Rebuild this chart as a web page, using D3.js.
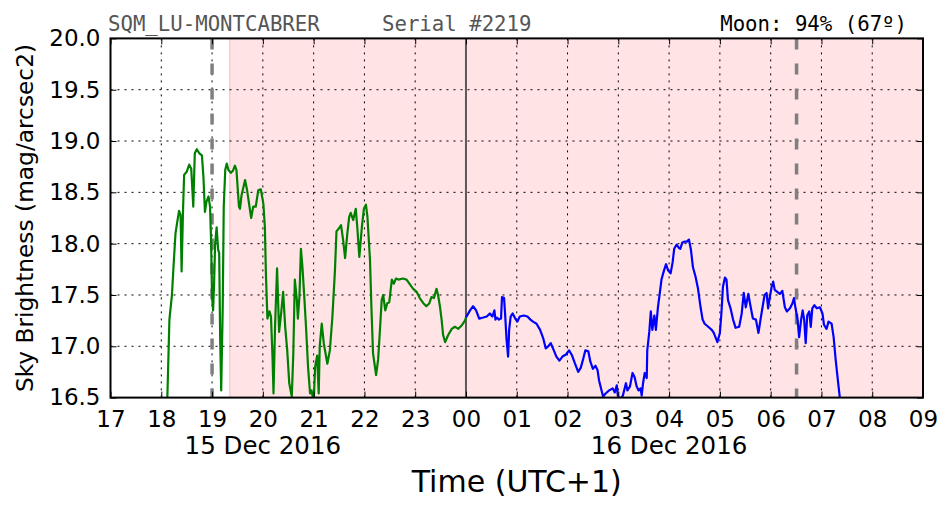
<!DOCTYPE html>
<html>
<head>
<meta charset="utf-8">
<script src="https://cdn.jsdelivr.net/npm/d3@7"></script>
<style>
  html, body { margin: 0; padding: 0; background: #ffffff; }
  svg { display: block; }
</style>
</head>
<body>
<svg id="chart" width="952" height="512"></svg>
<script>
// ---------------- DATA ----------------
// time in decimal hours counted from 15 Dec 2016 00:00 (UTC+1); 24 = midnight
const hourTicks = [17,18,19,20,21,22,23,24,25,26,27,28,29,30,31,32,33];
const hourLabels = ["17","18","19","20","21","22","23","00","01","02","03","04","05","06","07","08","09"];
const magTicks = [16.5,17.0,17.5,18.0,18.5,19.0,19.5,20.0];
const dateLabels = ["15 Dec 2016","16 Dec 2016"];
const dateLabelHours = [20, 28];

const twilightStart = 19.35;     // start of shaded (moon) period
const dashedMarkers = [19.0, 30.51];
const midnight = 24;

const greenTime = [18.07,18.12,18.16,18.21,18.24,18.28,18.32,18.35,18.38,18.40,18.43,18.45,18.50,18.55,18.59,18.63,18.66,18.70,18.75,18.80,18.83,18.86,18.89,18.93,18.96,18.98,19.00,19.02,19.04,19.06,19.09,19.12,19.14,19.16,19.18,19.21,19.23,19.26,19.29,19.32,19.37,19.41,19.45,19.48,19.53,19.55,19.58,19.65,19.69,19.77,19.81,19.86,19.91,19.96,20.01,20.04,20.06,20.09,20.13,20.16,20.19,20.21,20.24,20.28,20.32,20.36,20.40,20.44,20.48,20.52,20.57,20.60,20.63,20.67,20.69,20.72,20.75,20.78,20.82,20.85,20.89,20.93,20.96,21.00,21.03,21.07,21.10,21.12,21.16,21.20,21.27,21.32,21.37,21.42,21.45,21.50,21.54,21.58,21.62,21.66,21.70,21.73,21.78,21.83,21.86,21.90,21.95,21.99,22.03,22.06,22.11,22.14,22.17,22.23,22.27,22.31,22.34,22.37,22.41,22.45,22.49,22.54,22.58,22.62,22.67,22.76,22.83,22.90,22.96,23.03,23.09,23.16,23.22,23.28,23.32,23.37,23.42,23.45,23.49,23.52,23.55,23.59,23.65,23.72,23.78,23.85,23.91,23.98,24.00];
const greenMag = [16.30,16.51,17.26,17.50,17.77,18.10,18.23,18.32,18.28,17.73,18.36,18.67,18.70,18.77,18.73,18.36,18.88,18.92,18.88,18.86,18.65,18.31,18.41,18.46,18.36,18.04,17.48,17.35,17.61,18.00,18.16,17.94,17.91,17.06,16.57,17.38,18.36,18.72,18.78,18.72,18.69,18.71,18.76,18.72,18.36,18.34,18.47,18.62,18.52,18.25,18.36,18.36,18.52,18.53,18.39,18.16,17.71,17.27,17.34,17.29,16.90,16.54,17.19,17.76,17.14,17.32,17.53,17.19,16.96,16.64,16.51,16.93,17.65,17.45,17.27,17.48,17.95,17.77,17.45,17.19,16.80,16.54,16.57,16.45,16.80,16.91,16.54,17.00,17.22,17.03,16.83,16.96,17.29,17.74,18.12,18.15,18.18,18.04,17.86,18.08,18.26,18.30,18.23,18.34,18.16,17.87,18.16,18.34,18.38,18.26,17.84,17.35,16.93,16.72,16.87,17.19,17.45,17.50,17.35,17.42,17.43,17.65,17.61,17.66,17.65,17.66,17.65,17.60,17.56,17.53,17.47,17.42,17.39,17.42,17.48,17.47,17.56,17.50,17.38,17.26,17.11,17.04,17.11,17.17,17.19,17.17,17.20,17.25,17.28];

const blueTime = [24.00,24.08,24.14,24.20,24.26,24.34,24.41,24.47,24.52,24.56,24.58,24.61,24.65,24.69,24.71,24.75,24.77,24.80,24.83,24.85,24.88,24.92,24.96,25.01,25.06,25.14,25.21,25.27,25.32,25.39,25.46,25.52,25.57,25.62,25.67,25.73,25.78,25.84,25.90,25.97,26.03,26.09,26.14,26.21,26.26,26.31,26.35,26.41,26.45,26.50,26.55,26.59,26.62,26.67,26.70,26.75,26.82,26.89,26.93,26.97,26.99,27.03,27.09,27.15,27.18,27.23,27.28,27.32,27.36,27.40,27.44,27.46,27.49,27.52,27.56,27.57,27.61,27.64,27.67,27.71,27.74,27.78,27.82,27.85,27.90,27.94,27.98,28.03,28.07,28.10,28.15,28.19,28.22,28.26,28.31,28.35,28.39,28.43,28.47,28.52,28.57,28.62,28.66,28.70,28.77,28.84,28.88,28.92,28.95,29.00,29.03,29.06,29.10,29.13,29.16,29.21,29.26,29.31,29.38,29.43,29.47,29.51,29.56,29.60,29.65,29.71,29.76,29.80,29.84,29.88,29.92,29.95,29.98,30.02,30.05,30.08,30.13,30.18,30.23,30.28,30.32,30.38,30.43,30.46,30.49,30.53,30.56,30.60,30.63,30.66,30.69,30.72,30.76,30.79,30.82,30.86,30.91,30.97,31.02,31.05,31.10,31.14,31.20,31.24,31.28,31.33,31.36,31.40];
const blueMag = [17.28,17.35,17.39,17.35,17.27,17.28,17.29,17.32,17.29,17.35,17.26,17.28,17.26,17.27,17.48,17.47,17.32,17.06,16.90,17.16,17.29,17.32,17.28,17.24,17.29,17.30,17.29,17.26,17.24,17.22,17.16,17.08,16.98,17.00,17.03,16.96,16.90,16.86,16.90,16.92,16.96,16.91,16.84,16.75,16.79,16.88,16.96,16.95,16.85,16.78,16.81,16.77,16.67,16.57,16.51,16.54,16.57,16.59,16.55,16.62,16.52,16.48,16.52,16.64,16.57,16.61,16.74,16.70,16.61,16.57,16.59,16.52,16.65,16.74,16.69,16.96,17.14,17.34,17.16,17.30,17.16,17.38,17.53,17.65,17.74,17.80,17.74,17.71,17.82,17.95,17.99,17.96,17.95,18.01,18.02,18.02,18.04,17.94,17.77,17.68,17.56,17.38,17.26,17.22,17.19,17.16,17.13,17.08,17.04,17.13,17.32,17.58,17.67,17.65,17.45,17.37,17.26,17.18,17.19,17.32,17.52,17.38,17.51,17.40,17.27,17.26,17.13,17.26,17.38,17.50,17.52,17.37,17.47,17.58,17.63,17.55,17.53,17.51,17.54,17.38,17.34,17.37,17.42,17.47,17.37,17.26,17.09,17.26,17.35,17.26,17.03,17.30,17.34,17.19,17.37,17.40,17.37,17.38,17.32,17.21,17.17,17.24,17.22,17.09,16.87,16.64,16.51,16.28];

// ---------------- LAYOUT ----------------
const svg = d3.select("#chart");
const L = 110.5, R = 923, T = 38.4, B = 397.6;

const x = d3.scaleLinear().domain([17, 33]).range([L, R]);
const y = d3.scaleLinear().domain([16.5, 20.0]).range([B, T]);

const sans = "'DejaVu Sans', 'Bitstream Vera Sans', sans-serif";
const mono = "'DejaVu Sans Mono', monospace";

svg.append("defs").append("clipPath").attr("id", "plotclip")
  .append("rect").attr("x", L).attr("y", T).attr("width", R - L).attr("height", B - T);

// shaded span
svg.append("rect")
  .attr("x", x(twilightStart)).attr("y", T)
  .attr("width", x(33) - x(twilightStart)).attr("height", B - T)
  .attr("fill", "#ffe3e5");
svg.append("line")
  .attr("x1", x(twilightStart)).attr("x2", x(twilightStart))
  .attr("y1", T).attr("y2", B)
  .attr("stroke", "#ffc9cd").attr("stroke-width", 1.5);

// grid
const grid = svg.append("g");
grid.selectAll("line.vg").data(hourTicks.slice(1, -1)).enter().append("line")
  .attr("x1", d => x(d)).attr("x2", d => x(d)).attr("y1", T).attr("y2", B)
  .attr("stroke", "#000").attr("stroke-width", 1).attr("stroke-dasharray", "2,5");
grid.selectAll("line.hg").data(magTicks.slice(1, -1)).enter().append("line")
  .attr("x1", L).attr("x2", R).attr("y1", d => y(d)).attr("y2", d => y(d))
  .attr("stroke", "#000").attr("stroke-width", 1).attr("stroke-dasharray", "2,5");

// midnight line
svg.append("line")
  .attr("x1", x(midnight)).attr("x2", x(midnight)).attr("y1", T).attr("y2", B)
  .attr("stroke", "#5a5a5a").attr("stroke-width", 2);

// dashed markers
svg.selectAll("line.dm").data(dashedMarkers).enter().append("line")
  .attr("x1", d => x(d)).attr("x2", d => x(d)).attr("y1", T).attr("y2", B)
  .attr("stroke", "#7f7f7f").attr("stroke-width", 3.5).attr("stroke-dasharray", "11,14");

// data lines
const line = d3.line().x(d => x(d[0])).y(d => y(d[1]));
const plot = svg.append("g").attr("clip-path", "url(#plotclip)");
plot.append("path")
  .datum(greenTime.map((t, i) => [t, greenMag[i]]))
  .attr("d", line).attr("fill", "none").attr("stroke", "#008000")
  .attr("stroke-width", 2.2).attr("stroke-linejoin", "round");
plot.append("path")
  .datum(blueTime.map((t, i) => [t, blueMag[i]]))
  .attr("d", line).attr("fill", "none").attr("stroke", "#0000ff")
  .attr("stroke-width", 2.2).attr("stroke-linejoin", "round");

// axes (ticks inside)
const axB = svg.append("g").attr("transform", `translate(0,${B})`)
  .call(d3.axisBottom(x).tickValues(hourTicks).tickFormat((d, i) => hourLabels[i])
    .tickSizeInner(-6).tickSizeOuter(0).tickPadding(13));
const axT = svg.append("g").attr("transform", `translate(0,${T})`)
  .call(d3.axisTop(x).tickValues(hourTicks).tickFormat("").tickSizeInner(-6).tickSizeOuter(0));
const axL = svg.append("g").attr("transform", `translate(${L},0)`)
  .call(d3.axisLeft(y).tickValues(magTicks).tickFormat(d3.format(".1f"))
    .tickSizeInner(-6).tickSizeOuter(0).tickPadding(10));
const axR = svg.append("g").attr("transform", `translate(${R},0)`)
  .call(d3.axisRight(y).tickValues(magTicks).tickFormat("").tickSizeInner(-6).tickSizeOuter(0));

[axB, axT, axL, axR].forEach(a => {
  a.select(".domain").remove();
  a.selectAll(".tick line").attr("stroke", "#000").attr("stroke-width", 1);
  a.selectAll("text").attr("font-family", sans).attr("font-size", 23).attr("fill", "#000");
});

// frame
svg.append("rect").attr("x", L).attr("y", T).attr("width", R - L).attr("height", B - T)
  .attr("fill", "none").attr("stroke", "#000").attr("stroke-width", 2);

// date labels
svg.selectAll("text.date").data(dateLabels).enter().append("text")
  .attr("x", (d, i) => x(dateLabelHours[i])).attr("y", 454)
  .attr("text-anchor", "middle").attr("font-family", sans).attr("font-size", 24.5)
  .text(d => d);

// axis titles
svg.append("text").attr("x", (L + R) / 2).attr("y", 492)
  .attr("text-anchor", "middle").attr("font-family", sans).attr("font-size", 30)
  .text("Time (UTC+1)");
svg.append("text")
  .attr("transform", `translate(33,${(T + B) / 2}) rotate(-90)`)
  .attr("text-anchor", "middle").attr("font-family", sans).attr("font-size", 23.3)
  .text("Sky Brightness (mag/arcsec2)");

// header texts
svg.append("text").attr("x", 108).attr("y", 31)
  .attr("font-family", mono).attr("font-size", 20.7).attr("fill", "#555555")
  .attr("xml:space", "preserve").style("white-space", "pre")
  .text("SQM_LU-MONTCABRER     Serial #2219");
svg.append("text").attr("x", 907).attr("y", 31).attr("text-anchor", "end")
  .attr("font-family", mono).attr("font-size", 20.7).attr("fill", "#000")
  .text("Moon: 94% (67º)");
</script>
</body>
</html>
